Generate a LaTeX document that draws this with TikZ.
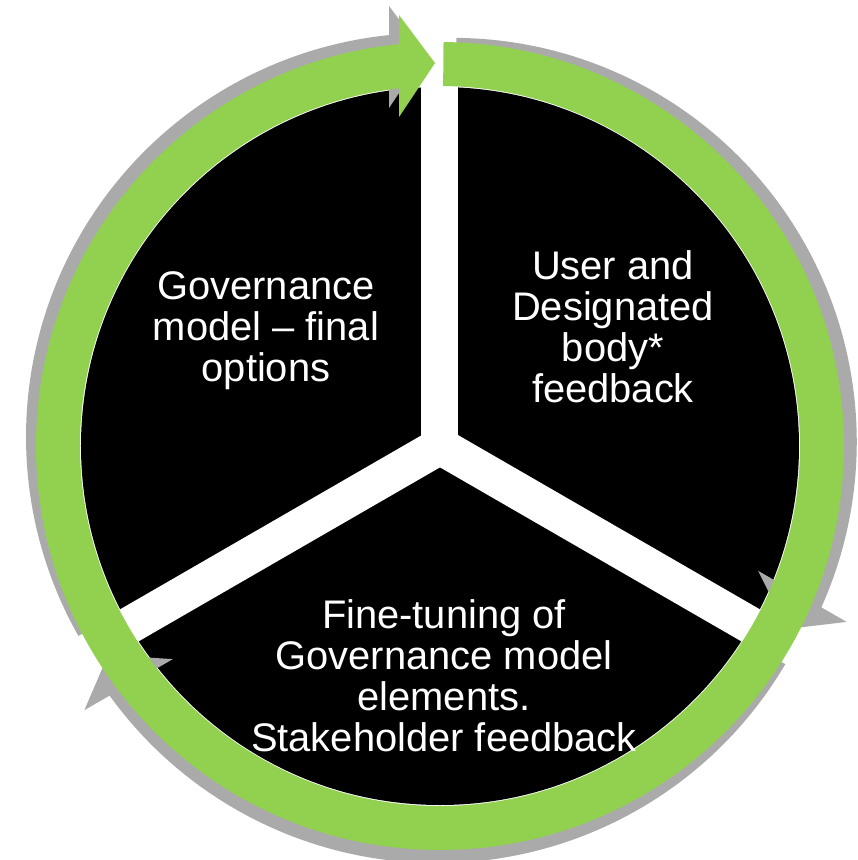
\documentclass[tikz,border=0pt]{standalone}
\usepackage{fontspec}
\setmainfont{Liberation Sans}
\definecolor{ringgreen}{RGB}{146,208,80}
\definecolor{shadowgray}{RGB}{170,170,170}
\tikzset{
sectortext/.style={text=white,align=center,font=\fontsize{22.7}{23.4}\selectfont},
gapband/.style={white,line width=0.74cm},
}
\begin{document}
\begin{tikzpicture}[x=0.02cm,y=0.02cm]
\useasboundingbox (-440,-414) rectangle (418,446);

\fill[black] (0,0) circle (359);
\foreach \a in {90,210,330}
\draw[gapband] (0,0) -- (\a:395);

\foreach \r in {0,-120,-240}{
\fill[shadowgray,shift={(\r+138:13.45)},rotate=\r]
(95:360) arc (95:209.5:360) -- (209.5:404) arc (209.5:95:404) -- cycle;
\fill[shadowgray,shift={(\r+138:13.45)},rotate=\r]
(95.43:433) -- (90.75:383) -- (97.1:331.5) -- cycle;
}

\fill[ringgreen] (95:360) arc (95:449.5:360) -- (449.5:404) arc (449.5:95:404) -- cycle;
\fill[ringgreen] (95.43:433) -- (90.75:383) -- (97.1:331.5) -- cycle;

\node[sectortext] (options) at (-174,115) {Governance\\model – final\\options};
\node[sectortext] (feedback) at (173,119) {User and\\Designated\\body*\\feedback};
\node[sectortext] (tuning) at (4,-230) {Fine-tuning of\\Governance model\\elements.\\Stakeholder feedback};
\end{tikzpicture}
\end{document}
